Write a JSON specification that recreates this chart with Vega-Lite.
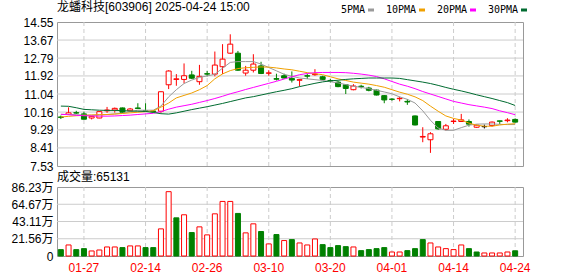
{
  "$schema": "https://vega.github.io/schema/vega-lite/v6.json",
  "background": "white",
  "padding": {"left": 10, "top": 0, "right": 0, "bottom": 0},
  "spacing": 21,
  "bounds": "flush",
  "config": {
    "font": "Liberation Sans, Noto Sans CJK SC",
    "view": {"stroke": "#999999", "strokeWidth": 1},
    "axis": {"domain": false, "ticks": false, "grid": false, "labelFont": "Liberation Sans, Noto Sans CJK SC", "labelFontSize": 12, "labelColor": "#000000", "labelFlush": false, "labelOverlap": false, "labelBound": false},
    "title": {"font": "Liberation Sans, Noto Sans CJK SC", "fontSize": 12, "fontWeight": "normal", "color": "#000000", "anchor": "start", "frame": "group", "baseline": "alphabetic"},
    "legend": {"labelFont": "DejaVu Sans Mono", "labelFontSize": 10, "labelColor": "#000000"}
  },
  "data": {"values": [
    {"d":"01-22","o":9.92,"h":9.99,"l":9.82,"c":9.90,"v":7.95,"up":0,"5PMA":10.05,"10PMA":9.92,"20PMA":10.05,"30PMA":10.45},
    {"d":"01-23","o":10.04,"h":10.39,"l":10.02,"c":10.12,"v":13.8,"up":1,"5PMA":10.04,"10PMA":9.95,"20PMA":10.03,"30PMA":10.44},
    {"d":"01-24","o":10.13,"h":10.22,"l":10.07,"c":10.11,"v":7.95,"up":0,"5PMA":10.03,"10PMA":9.98,"20PMA":10.00,"30PMA":10.37},
    {"d":"01-27","o":10.07,"h":10.18,"l":9.80,"c":9.81,"v":9.2,"up":0,"5PMA":10.01,"10PMA":10.00,"20PMA":9.98,"30PMA":10.29},
    {"d":"02-05","o":9.87,"h":9.96,"l":9.80,"c":9.95,"v":6.3,"up":1,"5PMA":10.00,"10PMA":10.02,"20PMA":9.97,"30PMA":10.27},
    {"d":"02-06","o":9.87,"h":10.20,"l":9.86,"c":10.18,"v":7.5,"up":1,"5PMA":10.02,"10PMA":10.03,"20PMA":9.96,"30PMA":10.25},
    {"d":"02-07","o":10.22,"h":10.41,"l":10.12,"c":10.26,"v":11.3,"up":1,"5PMA":10.04,"10PMA":10.04,"20PMA":9.96,"30PMA":10.24},
    {"d":"02-10","o":10.26,"h":10.38,"l":10.13,"c":10.34,"v":11.3,"up":1,"5PMA":10.07,"10PMA":10.06,"20PMA":9.97,"30PMA":10.24},
    {"d":"02-11","o":10.36,"h":10.38,"l":10.12,"c":10.15,"v":10.5,"up":0,"5PMA":10.10,"10PMA":10.09,"20PMA":9.99,"30PMA":10.23},
    {"d":"02-12","o":10.22,"h":10.36,"l":10.20,"c":10.31,"v":12.6,"up":1,"5PMA":10.18,"10PMA":10.12,"20PMA":10.01,"30PMA":10.21},
    {"d":"02-13","o":10.36,"h":10.59,"l":10.32,"c":10.33,"v":12.6,"up":1,"5PMA":10.25,"10PMA":10.15,"20PMA":10.04,"30PMA":10.20},
    {"d":"02-14","o":10.22,"h":10.59,"l":10.17,"c":10.19,"v":10.5,"up":0,"5PMA":10.25,"10PMA":10.18,"20PMA":10.07,"30PMA":10.19},
    {"d":"02-17","o":10.21,"h":10.25,"l":10.14,"c":10.18,"v":10.5,"up":0,"5PMA":10.25,"10PMA":10.22,"20PMA":10.10,"30PMA":10.14},
    {"d":"02-18","o":10.20,"h":11.17,"l":10.12,"c":11.15,"v":33.9,"up":1,"5PMA":10.45,"10PMA":10.40,"20PMA":10.18,"30PMA":10.08},
    {"d":"02-19","o":11.49,"h":12.20,"l":11.28,"c":12.16,"v":80.4,"up":1,"5PMA":10.90,"10PMA":10.60,"20PMA":10.30,"30PMA":10.06},
    {"d":"02-20","o":11.75,"h":12.01,"l":11.44,"c":11.78,"v":47.7,"up":0,"5PMA":11.25,"10PMA":10.85,"20PMA":10.40,"30PMA":10.12},
    {"d":"02-21","o":11.75,"h":12.53,"l":11.56,"c":11.93,"v":51.5,"up":1,"5PMA":11.55,"10PMA":10.97,"20PMA":10.47,"30PMA":10.20},
    {"d":"02-24","o":11.97,"h":12.17,"l":11.77,"c":11.81,"v":29.3,"up":0,"5PMA":11.72,"10PMA":11.09,"20PMA":10.54,"30PMA":10.28},
    {"d":"02-25","o":11.64,"h":12.46,"l":11.49,"c":11.90,"v":36.4,"up":1,"5PMA":11.85,"10PMA":11.25,"20PMA":10.63,"30PMA":10.35},
    {"d":"02-26","o":12.03,"h":12.17,"l":11.90,"c":12.01,"v":26.4,"up":1,"5PMA":11.92,"10PMA":11.45,"20PMA":10.72,"30PMA":10.42},
    {"d":"02-27","o":12.01,"h":13.11,"l":11.90,"c":12.45,"v":52.7,"up":1,"5PMA":12.00,"10PMA":11.78,"20PMA":10.82,"30PMA":10.50},
    {"d":"02-28","o":12.37,"h":13.47,"l":12.01,"c":12.74,"v":68.2,"up":1,"5PMA":12.30,"10PMA":12.02,"20PMA":10.93,"30PMA":10.58},
    {"d":"03-03","o":13.03,"h":13.95,"l":13.00,"c":13.47,"v":68.2,"up":1,"5PMA":12.58,"10PMA":12.18,"20PMA":11.05,"30PMA":10.67},
    {"d":"03-04","o":13.03,"h":13.14,"l":12.17,"c":12.20,"v":53.2,"up":0,"5PMA":12.62,"10PMA":12.28,"20PMA":11.15,"30PMA":10.76},
    {"d":"03-05","o":12.06,"h":12.41,"l":11.93,"c":12.20,"v":28.9,"up":1,"5PMA":12.62,"10PMA":12.32,"20PMA":11.26,"30PMA":10.85},
    {"d":"03-06","o":12.20,"h":12.98,"l":12.09,"c":12.50,"v":40.2,"up":1,"5PMA":12.62,"10PMA":12.34,"20PMA":11.36,"30PMA":10.91},
    {"d":"03-07","o":12.41,"h":12.61,"l":12.01,"c":12.04,"v":30.6,"up":0,"5PMA":12.50,"10PMA":12.36,"20PMA":11.46,"30PMA":10.99},
    {"d":"03-10","o":12.05,"h":12.20,"l":11.93,"c":12.07,"v":15.1,"up":1,"5PMA":12.33,"10PMA":12.35,"20PMA":11.56,"30PMA":11.07},
    {"d":"03-11","o":11.79,"h":12.03,"l":11.70,"c":11.76,"v":26.8,"up":0,"5PMA":12.17,"10PMA":12.31,"20PMA":11.66,"30PMA":11.15},
    {"d":"03-12","o":11.93,"h":12.03,"l":11.79,"c":11.82,"v":19.3,"up":1,"5PMA":12.00,"10PMA":12.26,"20PMA":11.77,"30PMA":11.22},
    {"d":"03-13","o":11.80,"h":12.14,"l":11.60,"c":11.72,"v":20.5,"up":0,"5PMA":11.90,"10PMA":12.22,"20PMA":11.88,"30PMA":11.30},
    {"d":"03-14","o":11.71,"h":11.77,"l":11.41,"c":11.74,"v":16.3,"up":1,"5PMA":11.82,"10PMA":12.15,"20PMA":11.98,"30PMA":11.40},
    {"d":"03-17","o":11.93,"h":12.03,"l":11.77,"c":11.91,"v":13.8,"up":1,"5PMA":11.78,"10PMA":12.08,"20PMA":12.04,"30PMA":11.48},
    {"d":"03-18","o":11.98,"h":12.25,"l":11.93,"c":12.01,"v":21.3,"up":1,"5PMA":11.74,"10PMA":12.03,"20PMA":12.08,"30PMA":11.56},
    {"d":"03-19","o":11.88,"h":11.93,"l":11.71,"c":11.75,"v":14.2,"up":0,"5PMA":11.70,"10PMA":11.98,"20PMA":12.09,"30PMA":11.63},
    {"d":"03-20","o":11.70,"h":11.77,"l":11.60,"c":11.68,"v":10.5,"up":0,"5PMA":11.64,"10PMA":11.88,"20PMA":12.09,"30PMA":11.68},
    {"d":"03-21","o":11.62,"h":11.67,"l":11.37,"c":11.40,"v":13.0,"up":0,"5PMA":11.58,"10PMA":11.78,"20PMA":12.09,"30PMA":11.71},
    {"d":"03-24","o":11.49,"h":11.52,"l":11.04,"c":11.31,"v":11.7,"up":0,"5PMA":11.50,"10PMA":11.70,"20PMA":12.08,"30PMA":11.75},
    {"d":"03-25","o":11.25,"h":11.52,"l":11.22,"c":11.43,"v":11.3,"up":1,"5PMA":11.42,"10PMA":11.62,"20PMA":12.05,"30PMA":11.78},
    {"d":"03-26","o":11.42,"h":11.49,"l":11.31,"c":11.40,"v":6.7,"up":0,"5PMA":11.36,"10PMA":11.57,"20PMA":12.01,"30PMA":11.80},
    {"d":"03-27","o":11.33,"h":11.39,"l":11.17,"c":11.22,"v":8.0,"up":0,"5PMA":11.30,"10PMA":11.52,"20PMA":11.96,"30PMA":11.82},
    {"d":"03-28","o":11.23,"h":11.25,"l":10.97,"c":10.99,"v":9.2,"up":0,"5PMA":11.22,"10PMA":11.45,"20PMA":11.89,"30PMA":11.82},
    {"d":"03-31","o":10.96,"h":10.99,"l":10.59,"c":10.75,"v":10.5,"up":0,"5PMA":11.14,"10PMA":11.37,"20PMA":11.78,"30PMA":11.82},
    {"d":"04-01","o":10.79,"h":10.84,"l":10.71,"c":10.78,"v":5.0,"up":1,"5PMA":11.05,"10PMA":11.25,"20PMA":11.65,"30PMA":11.82},
    {"d":"04-02","o":10.81,"h":10.91,"l":10.68,"c":10.83,"v":5.0,"up":1,"5PMA":10.90,"10PMA":11.13,"20PMA":11.52,"30PMA":11.80},
    {"d":"04-03","o":10.68,"h":10.79,"l":10.51,"c":10.65,"v":6.7,"up":0,"5PMA":10.78,"10PMA":11.03,"20PMA":11.42,"30PMA":11.74},
    {"d":"04-07","o":9.97,"h":9.99,"l":9.51,"c":9.53,"v":9.2,"up":0,"5PMA":10.60,"10PMA":10.90,"20PMA":11.30,"30PMA":11.68},
    {"d":"04-08","o":8.94,"h":9.42,"l":8.69,"c":8.97,"v":20.5,"up":0,"5PMA":10.22,"10PMA":10.72,"20PMA":11.16,"30PMA":11.62},
    {"d":"04-09","o":8.81,"h":9.18,"l":8.17,"c":9.10,"v":16.3,"up":1,"5PMA":9.76,"10PMA":10.45,"20PMA":11.04,"30PMA":11.55},
    {"d":"04-10","o":9.70,"h":9.72,"l":9.29,"c":9.34,"v":11.3,"up":1,"5PMA":9.38,"10PMA":10.20,"20PMA":10.92,"30PMA":11.46},
    {"d":"04-11","o":9.32,"h":9.58,"l":9.26,"c":9.49,"v":9.2,"up":1,"5PMA":9.27,"10PMA":9.97,"20PMA":10.80,"30PMA":11.36},
    {"d":"04-14","o":9.70,"h":9.83,"l":9.58,"c":9.72,"v":8.0,"up":1,"5PMA":9.27,"10PMA":9.85,"20PMA":10.68,"30PMA":11.27},
    {"d":"04-15","o":9.70,"h":10.07,"l":9.69,"c":9.78,"v":13.8,"up":1,"5PMA":9.40,"10PMA":9.77,"20PMA":10.60,"30PMA":11.19},
    {"d":"04-16","o":9.70,"h":9.80,"l":9.45,"c":9.57,"v":9.2,"up":0,"5PMA":9.52,"10PMA":9.62,"20PMA":10.52,"30PMA":11.10},
    {"d":"04-17","o":9.42,"h":9.55,"l":9.39,"c":9.52,"v":5.0,"up":0,"5PMA":9.57,"10PMA":9.52,"20PMA":10.46,"30PMA":11.00},
    {"d":"04-18","o":9.45,"h":9.55,"l":9.36,"c":9.45,"v":3.8,"up":1,"5PMA":9.58,"10PMA":9.47,"20PMA":10.40,"30PMA":10.91},
    {"d":"04-21","o":9.50,"h":9.70,"l":9.45,"c":9.67,"v":3.8,"up":1,"5PMA":9.58,"10PMA":9.47,"20PMA":10.33,"30PMA":10.82},
    {"d":"04-22","o":9.73,"h":9.74,"l":9.58,"c":9.71,"v":3.8,"up":1,"5PMA":9.56,"10PMA":9.53,"20PMA":10.22,"30PMA":10.72},
    {"d":"04-23","o":9.74,"h":9.86,"l":9.66,"c":9.77,"v":5.0,"up":1,"5PMA":9.55,"10PMA":9.57,"20PMA":10.13,"30PMA":10.62},
    {"d":"04-24","o":9.80,"h":9.85,"l":9.65,"c":9.67,"v":6.51,"up":0,"5PMA":9.55,"10PMA":9.59,"20PMA":10.03,"30PMA":10.48}
  ]},
  "vconcat": [
    {
      "width": 466,
      "height": 144,
      "title": {"text": "龙蟠科技[603906] 2025-04-24 15:00", "offset": 2},
      "encoding": {
        "x": {"field": "d", "type": "ordinal", "sort": null,
          "scale": {"domain": ["01-22","01-23","01-24","01-27","02-05","02-06","02-07","02-10","02-11","02-12","02-13","02-14","02-17","02-18","02-19","02-20","02-21","02-24","02-25","02-26","02-27","02-28","03-03","03-04","03-05","03-06","03-07","03-10","03-11","03-12","03-13","03-14","03-17","03-18","03-19","03-20","03-21","03-24","03-25","03-26","03-27","03-28","03-31","04-01","04-02","04-03","04-07","04-08","04-09","04-10","04-11","04-14","04-15","04-16","04-17","04-18","04-21","04-22","04-23","04-24"],
            "range": [0, 462], "paddingInner": 0, "paddingOuter": 0},
          "axis": {"title": null, "labels": false, "values": ["01-27","02-14","02-26","03-10","03-20","04-01","04-14","04-24"]}}
      },
      "layer": [
        {
          "data": {"values": [{"g": 8.41}, {"g": 9.29}, {"g": 10.16}, {"g": 11.04}, {"g": 11.92}, {"g": 12.79}, {"g": 13.67}]},
          "mark": {"type": "rule", "color": "#cccccc", "strokeWidth": 1},
          "encoding": {
            "x": null,
            "y": {"field": "g", "type": "quantitative", "scale": {"domain": [7.53, 14.55], "nice": false, "zero": false},
              "axis": {"title": null, "values": [7.53, 8.41, 9.29, 10.16, 11.04, 11.92, 12.79, 13.67, 14.55], "format": ".2f", "labelPadding": 4, "labelOverlap": false}}
          }
        },
        {
          "transform": [{"filter": {"field": "d", "oneOf": ["01-27","02-14","02-26","03-10","03-20","04-01","04-14","04-24"]}}],
          "mark": {"type": "rule", "color": "#cccccc", "strokeWidth": 1, "strokeDash": [4, 3]},
          "encoding": {}
        },
        {
          "mark": {"type": "rule", "strokeWidth": 1},
          "encoding": {
            "y": {"field": "l", "type": "quantitative", "scale": {"domain": [7.53, 14.55], "nice": false, "zero": false},
              "axis": {"title": null, "values": [7.53, 8.41, 9.29, 10.16, 11.04, 11.92, 12.79, 13.67, 14.55], "format": ".2f", "labelPadding": 4, "labelOverlap": false}},
            "y2": {"field": "h"},
            "stroke": {"condition": [{"test": "datum.c > datum.o", "value": "#ff0000"}, {"test": "datum.c < datum.o", "value": "#008000"}], "value": "#000000"}
          }
        },
        {
          "mark": {"type": "bar", "size": 5, "strokeWidth": 1},
          "encoding": {
            "y": {"field": "o", "type": "quantitative", "scale": {"domain": [7.53, 14.55], "nice": false, "zero": false},
              "axis": {"title": null, "values": [7.53, 8.41, 9.29, 10.16, 11.04, 11.92, 12.79, 13.67, 14.55], "format": ".2f", "labelPadding": 4, "labelOverlap": false}},
            "y2": {"field": "c"},
            "fill": {"condition": [{"test": "datum.c > datum.o", "value": "#ffffff"}, {"test": "datum.c < datum.o", "value": "#008000"}], "value": "#000000"},
            "stroke": {"condition": [{"test": "datum.c > datum.o", "value": "#ff0000"}, {"test": "datum.c < datum.o", "value": "#008000"}], "value": "#000000"}
          }
        },
        {
          "transform": [{"fold": ["5PMA", "10PMA", "20PMA", "30PMA"], "as": ["ma", "val"]}],
          "mark": {"type": "line", "strokeWidth": 1},
          "encoding": {
            "y": {"field": "val", "type": "quantitative", "scale": {"domain": [7.53, 14.55], "nice": false, "zero": false},
              "axis": {"title": null, "values": [7.53, 8.41, 9.29, 10.16, 11.04, 11.92, 12.79, 13.67, 14.55], "format": ".2f", "labelPadding": 4, "labelOverlap": false}},
            "color": {"field": "ma", "type": "nominal",
              "scale": {"domain": ["5PMA", "10PMA", "20PMA", "30PMA"], "range": ["#9a9a9a", "#f0a000", "#ff00ff", "#006b30"]},
              "legend": {"title": null, "orient": "none", "legendX": 309, "legendY": -17, "direction": "horizontal",
                "symbolType": "stroke", "symbolSize": 36, "symbolStrokeWidth": 3, "labelAlign": "right", "labelOffset": -11,
                "columnPadding": 5, "padding": 0}}
          }
        }
      ]
    },
    {
      "width": 466,
      "height": 69,
      "title": {"text": "成交量:65131", "offset": -3},
      "encoding": {
        "x": {"field": "d", "type": "ordinal", "sort": null,
          "scale": {"domain": ["01-22","01-23","01-24","01-27","02-05","02-06","02-07","02-10","02-11","02-12","02-13","02-14","02-17","02-18","02-19","02-20","02-21","02-24","02-25","02-26","02-27","02-28","03-03","03-04","03-05","03-06","03-07","03-10","03-11","03-12","03-13","03-14","03-17","03-18","03-19","03-20","03-21","03-24","03-25","03-26","03-27","03-28","03-31","04-01","04-02","04-03","04-07","04-08","04-09","04-10","04-11","04-14","04-15","04-16","04-17","04-18","04-21","04-22","04-23","04-24"],
            "range": [0, 462], "paddingInner": 0, "paddingOuter": 0},
          "axis": {"title": null, "labelColor": "#ff0000", "labelPadding": 6, "labelAngle": 0,
            "values": ["01-27","02-14","02-26","03-10","03-20","04-01","04-14","04-24"]}}
      },
      "layer": [
        {
          "data": {"values": [{"g": 21.56}, {"g": 43.11}, {"g": 64.67}]},
          "mark": {"type": "rule", "color": "#cccccc", "strokeWidth": 1},
          "encoding": {
            "x": null,
            "y": {"field": "g", "type": "quantitative", "scale": {"domain": [0, 86.23], "nice": false},
              "axis": {"title": null, "values": [0, 21.56, 43.11, 64.67, 86.23], "labelPadding": 4, "labelOverlap": false,
                "labelExpr": "datum.value == 0 ? '0' : format(datum.value, '.2f') + '万'"}}
          }
        },
        {
          "transform": [{"filter": {"field": "d", "oneOf": ["01-27","02-14","02-26","03-10","03-20","04-01","04-14","04-24"]}}],
          "mark": {"type": "rule", "color": "#cccccc", "strokeWidth": 1, "strokeDash": [4, 3]},
          "encoding": {}
        },
        {
          "mark": {"type": "bar", "size": 5, "strokeWidth": 1},
          "encoding": {
            "y": {"field": "v", "type": "quantitative", "scale": {"domain": [0, 86.23], "nice": false},
              "axis": {"title": null, "values": [0, 21.56, 43.11, 64.67, 86.23], "labelPadding": 4, "labelOverlap": false,
                "labelExpr": "datum.value == 0 ? '0' : format(datum.value, '.2f') + '万'"}},
            "fill": {"condition": {"test": "datum.up == 1", "value": "#ffffff"}, "value": "#008000"},
            "stroke": {"condition": {"test": "datum.up == 1", "value": "#ff0000"}, "value": "#008000"}
          }
        }
      ]
    }
  ]
}
